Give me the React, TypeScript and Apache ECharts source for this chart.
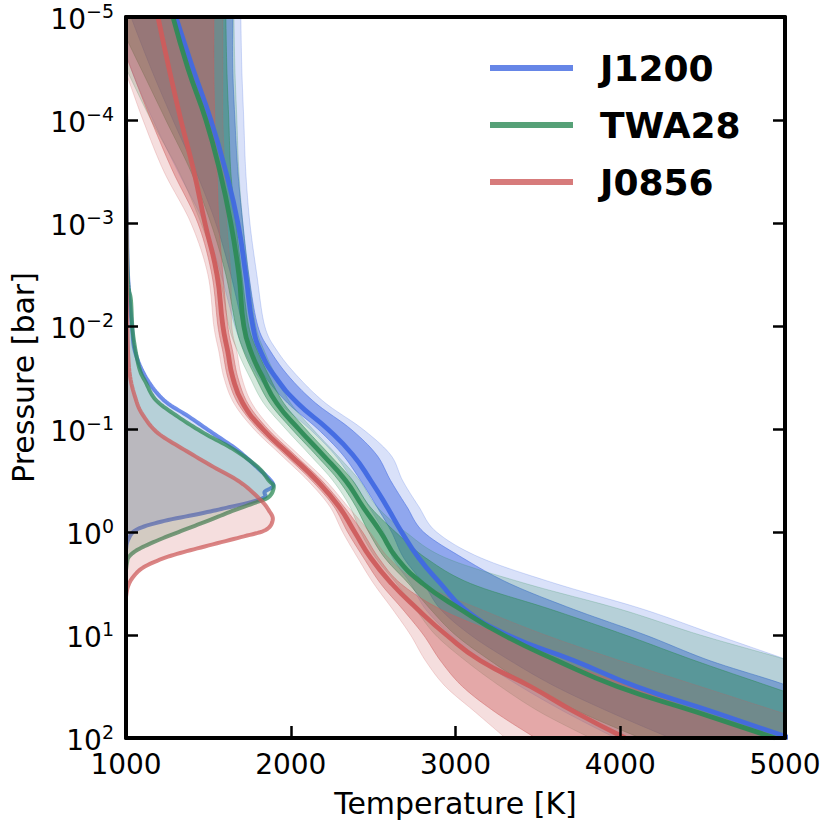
import React, { useEffect, useRef } from "react";
import * as echarts from "echarts";

// log10 of pressure [bar] for the P-T profiles
const LOG_P = [-5, -4.5, -4, -3.5, -3, -2.5, -2, -1.75, -1.5, -1.25, -1, -0.75, -0.5, -0.25, 0, 0.25, 0.5, 0.75, 1, 1.25, 1.5, 1.75, 2];

// J1200 temperatures [K]
const J1200_MED = [1303, 1406, 1515, 1606, 1679, 1727, 1770, 1818, 1909, 2042, 2224, 2376, 2485, 2582, 2673, 2776, 2909, 3055, 3315, 3721, 4097, 4570, 5030];
const J1200_LO1 = [1030, 1152, 1285, 1424, 1545, 1636, 1709, 1758, 1848, 1982, 2164, 2315, 2424, 2521, 2612, 2685, 2806, 2909, 3091, 3333, 3606, 3939, 4303];
const J1200_HI1 = [1648, 1648, 1661, 1679, 1709, 1745, 1800, 1879, 1994, 2152, 2364, 2521, 2606, 2703, 2806, 3042, 3327, 3715, 4152, 4545, 5030, 5394, 5697];
const J1200_LO2 = [939, 1030, 1164, 1315, 1473, 1576, 1661, 1721, 1806, 1933, 2115, 2267, 2376, 2473, 2564, 2618, 2727, 2818, 2970, 3152, 3394, 3667, 3970];
const J1200_HI2 = [1697, 1703, 1715, 1727, 1752, 1794, 1842, 1921, 2048, 2212, 2436, 2606, 2679, 2776, 2885, 3152, 3606, 4139, 4582, 5030, 5455, 5879, 6303];

// TWA28 temperatures [K]
const TWA28_MED = [1285, 1376, 1485, 1570, 1636, 1685, 1715, 1758, 1830, 1915, 2048, 2194, 2333, 2436, 2545, 2642, 2800, 3030, 3291, 3618, 3982, 4467, 4939];
const TWA28_LO1 = [939, 1091, 1242, 1394, 1515, 1606, 1667, 1715, 1788, 1873, 2006, 2152, 2291, 2394, 2473, 2570, 2715, 2848, 3000, 3212, 3455, 3758, 4121];
const TWA28_HI1 = [1606, 1612, 1624, 1636, 1667, 1703, 1745, 1800, 1873, 1958, 2091, 2236, 2376, 2479, 2636, 2818, 3091, 3576, 4030, 4455, 4909, 5364, 5788];
const TWA28_LO2 = [848, 1000, 1152, 1321, 1455, 1564, 1624, 1679, 1752, 1836, 1970, 2115, 2255, 2358, 2424, 2515, 2642, 2758, 2879, 3061, 3273, 3515, 3818];
const TWA28_HI2 = [1655, 1661, 1673, 1685, 1709, 1745, 1788, 1842, 1915, 2000, 2133, 2279, 2418, 2521, 2697, 2939, 3424, 4000, 4485, 5030, 5515, 5939, 6303];

// J0856 temperatures [K]
const J0856_MED = [1194, 1261, 1333, 1412, 1479, 1552, 1588, 1618, 1648, 1709, 1830, 1994, 2158, 2291, 2388, 2485, 2612, 2770, 2945, 3152, 3455, 3727, 4030];
const J0856_LO1 = [909, 1030, 1152, 1285, 1436, 1521, 1558, 1588, 1618, 1679, 1800, 1964, 2127, 2261, 2345, 2442, 2545, 2679, 2806, 2909, 3042, 3242, 3485];
const J0856_HI1 = [1533, 1533, 1539, 1552, 1564, 1588, 1618, 1648, 1679, 1739, 1861, 2024, 2188, 2321, 2436, 2533, 2667, 2909, 3273, 3636, 4061, 4485, 4970];
const J0856_LO2 = [848, 988, 1103, 1230, 1394, 1497, 1533, 1564, 1594, 1655, 1776, 1939, 2103, 2236, 2315, 2406, 2503, 2618, 2727, 2818, 2939, 3121, 3303];
const J0856_HI2 = [1588, 1588, 1588, 1600, 1612, 1636, 1642, 1673, 1703, 1764, 1885, 2048, 2212, 2345, 2479, 2594, 2788, 3152, 3545, 4000, 4485, 4970, 5455];

// Emission contribution outlines (log10 P, T in K)
const J1200_CF_LOGP = [-3.5, -3, -2.5, -2, -1.75, -1.5, -1.28, -1.12, -0.96, -0.8, -0.63, -0.5, -0.44, -0.39, -0.34, -0.29, -0.24, -0.18, -0.1, -0.02, 0.08, 0.17];
const J1200_CF_T = [1000, 1006, 1012, 1036, 1055, 1121, 1230, 1382, 1527, 1673, 1794, 1879, 1891, 1842, 1842, 1758, 1624, 1455, 1212, 1061, 1012, 1000];
const TWA28_CF_LOGP = [-3.5, -2.5, -2.25, -1.93, -1.6, -1.45, -1.28, -1.12, -0.96, -0.8, -0.63, -0.5, -0.44, -0.34, -0.28, -0.21, -0.12, -0.02, 0.08, 0.17, 0.24, 0.3, 0.37];
const TWA28_CF_T = [1000, 1010, 1030, 1042, 1079, 1121, 1182, 1315, 1473, 1655, 1800, 1867, 1897, 1867, 1776, 1655, 1515, 1352, 1194, 1073, 1018, 1006, 1000];
const J0856_CF_LOGP = [-4, -3, -2.25, -1.6, -1.28, -1.12, -0.96, -0.8, -0.63, -0.48, -0.31, -0.21, -0.12, -0.02, 0.05, 0.15, 0.24, 0.34, 0.44, 0.53, 0.63];
const J0856_CF_T = [1000, 1003, 1006, 1018, 1061, 1109, 1194, 1352, 1533, 1697, 1818, 1867, 1891, 1848, 1697, 1455, 1255, 1109, 1042, 1012, 1000];

const NAMES = ["J1200", "TWA28", "J0856"];
const X_TICKS = [1000, 2000, 3000, 4000, 5000];

const BLUE = [65, 105, 225];
const GREEN = [46, 139, 87];
const RED = [205, 92, 92];
const FONT = "DejaVu Sans";

const rgba = (c: number[], a: number) => `rgba(${c[0]},${c[1]},${c[2]},${a})`;
const p10 = (lp: number) => Math.pow(10, lp);

function catmull(pts: number[][], n = 10): number[][] {
  if (pts.length < 3) return pts.slice();
  const out: number[][] = [];
  for (let i = 0; i < pts.length - 1; i++) {
    const p0 = pts[Math.max(0, i - 1)];
    const p1 = pts[i];
    const p2 = pts[i + 1];
    const p3 = pts[Math.min(pts.length - 1, i + 2)];
    for (let k = 0; k < n; k++) {
      const t = k / n;
      const t2 = t * t;
      const t3 = t2 * t;
      const pt = [0, 1].map(
        (d) =>
          0.5 *
          (2 * p1[d] +
            (-p0[d] + p2[d]) * t +
            (2 * p0[d] - 5 * p1[d] + 4 * p2[d] - p3[d]) * t2 +
            (-p0[d] + 3 * p1[d] - 3 * p2[d] + p3[d]) * t3)
      );
      out.push(pt);
    }
  }
  out.push(pts[pts.length - 1]);
  return out;
}

function bandSeries(lo: number[], hi: number[], color: number[], alpha: number) {
  return {
    type: "custom",
    coordinateSystem: "cartesian2d",
    xAxisIndex: 0,
    yAxisIndex: 0,
    clip: true,
    silent: true,
    z: 2,
    data: LOG_P.map((lp, i) => [lo[i], hi[i], p10(lp)]),
    encode: { x: [0, 1], y: 2 },
    renderItem: (params: any, api: any) => {
      if (params.dataIndex !== 0) return null;
      const a = LOG_P.map((lp, i) => api.coord([lo[i], p10(lp)]));
      const b = LOG_P.map((lp, i) => api.coord([hi[i], p10(lp)]));
      const pts = catmull(a).concat(catmull(b).reverse());
      return {
        type: "polygon",
        shape: { points: pts },
        style: { fill: rgba(color, alpha), stroke: rgba(color, Math.min(1, alpha * 1.1)), lineWidth: 1 },
      };
    },
  };
}

function contribSeries(logp: number[], temps: number[], color: number[]) {
  return {
    type: "custom",
    coordinateSystem: "cartesian2d",
    xAxisIndex: 0,
    yAxisIndex: 0,
    clip: true,
    silent: true,
    z: 3,
    data: logp.map((lp, i) => [temps[i], p10(lp)]),
    encode: { x: 0, y: 1 },
    renderItem: (params: any, api: any) => {
      if (params.dataIndex !== 0) return null;
      const c = catmull(logp.map((lp, i) => api.coord([temps[i], p10(lp)])));
      const x0 = api.coord([1000, p10(logp[0])]);
      const x1 = api.coord([1000, p10(logp[logp.length - 1])]);
      const poly = [x0].concat(c, [x1]);
      return {
        type: "group",
        children: [
          { type: "polygon", shape: { points: poly }, style: { fill: rgba(color, 0.2), stroke: null } },
          { type: "polyline", shape: { points: c }, style: { fill: null, stroke: rgba(color, 0.75), lineWidth: 4 } },
        ],
      };
    },
  };
}

function lineSeries(name: string, temps: number[], color: number[], z: number) {
  return {
    type: "line",
    name,
    xAxisIndex: 0,
    yAxisIndex: 0,
    data: LOG_P.map((lp, i) => [temps[i], p10(lp)]),
    smooth: 0.5,
    showSymbol: false,
    symbol: "none",
    clip: true,
    z,
    lineStyle: { color: rgba(color, 0.95), width: 4.8 },
    itemStyle: { color: rgba(color, 0.95) },
    silent: true,
  };
}

export default function App() {
  const ref = useRef<HTMLDivElement>(null);
  useEffect(() => {
    if (!ref.current) return;
    const chart = echarts.init(ref.current, undefined, { renderer: "svg" });
    const axisLine = { show: true, onZero: false, lineStyle: { color: "#000", width: 4 } };
    const tick = { show: true, inside: true, length: 12, lineStyle: { color: "#000", width: 2.5 } };
    const yBase = {
      type: "log",
      logBase: 10,
      min: 1e-5,
      max: 1e2,
      inverse: true,
      splitNumber: 7,
      z: 10,
      axisLine,
      axisTick: tick,
      minorTick: { show: false },
      splitLine: { show: false },
    };
    const option: any = {
      animation: false,
      backgroundColor: "#fff",
      grid: { left: 125, right: 46, top: 17, bottom: 93, containLabel: false },
      legend: {
        data: NAMES,
        orient: "vertical",
        left: 490,
        top: 47,
        padding: 0,
        icon: "rect",
        itemWidth: 83,
        itemHeight: 6,
        itemGap: 15,
        selectedMode: false,
        itemStyle: { opacity: 0.85 },
        textStyle: { fontSize: 36, fontWeight: "bold", fontFamily: FONT, color: "#000", lineHeight: 42, padding: [0, 0, 0, 22] },
      },
      xAxis: [
        {
          type: "value",
          min: X_TICKS[0],
          max: X_TICKS[X_TICKS.length - 1],
          interval: 1000,
          position: "bottom",
          z: 10,
          axisLine,
          axisTick: tick,
          splitLine: { show: false },
          axisLabel: { color: "#000", fontSize: 28, fontFamily: FONT, margin: 12, formatter: (v: number) => String(v) },
          name: "Temperature [K]",
          nameLocation: "middle",
          nameGap: 50,
          nameTextStyle: { fontSize: 30, fontFamily: FONT, color: "#000" },
        },
        {
          type: "value",
          min: X_TICKS[0],
          max: X_TICKS[X_TICKS.length - 1],
          interval: 1000,
          position: "top",
          z: 10,
          axisLine,
          axisTick: { show: false },
          axisLabel: { show: false },
          splitLine: { show: false },
        },
      ],
      yAxis: [
        {
          ...yBase,
          position: "left",
          axisLabel: {
            show: true,
            margin: 12,
            formatter: (v: number) => {
              const e = Math.round(Math.log10(v));
              const s = e < 0 ? "\u2212" + String(-e) : String(e);
              return `{b|10}{s|${s}}`;
            },
            rich: {
              b: { fontSize: 28, fontFamily: FONT, color: "#000", lineHeight: 32, verticalAlign: "bottom" },
              s: { fontSize: 19, fontFamily: FONT, color: "#000", lineHeight: 20, verticalAlign: "top" },
            },
          },
          name: "Pressure [bar]",
          nameLocation: "middle",
          nameGap: 88,
          nameRotate: 90,
          nameTextStyle: { fontSize: 30, fontFamily: FONT, color: "#000" },
        },
        {
          ...yBase,
          position: "right",
          axisLabel: { show: false },
        },
      ],
      series: [
        bandSeries(J1200_LO2, J1200_HI2, BLUE, 0.2),
        bandSeries(J1200_LO1, J1200_HI1, BLUE, 0.48),
        bandSeries(TWA28_LO2, TWA28_HI2, GREEN, 0.2),
        bandSeries(TWA28_LO1, TWA28_HI1, GREEN, 0.45),
        bandSeries(J0856_LO2, J0856_HI2, RED, 0.2),
        bandSeries(J0856_LO1, J0856_HI1, RED, 0.42),
        contribSeries(J1200_CF_LOGP, J1200_CF_T, BLUE),
        contribSeries(TWA28_CF_LOGP, TWA28_CF_T, GREEN),
        contribSeries(J0856_CF_LOGP, J0856_CF_T, RED),
        lineSeries(NAMES[0], J1200_MED, BLUE, 5),
        lineSeries(NAMES[1], TWA28_MED, GREEN, 6),
        lineSeries(NAMES[2], J0856_MED, RED, 7),
      ],
    };
    chart.setOption(option);
    return () => chart.dispose();
  }, []);
  return <div ref={ref} style={{ position: "absolute", left: 0, top: 0, width: 831, height: 831 }} />;
}
